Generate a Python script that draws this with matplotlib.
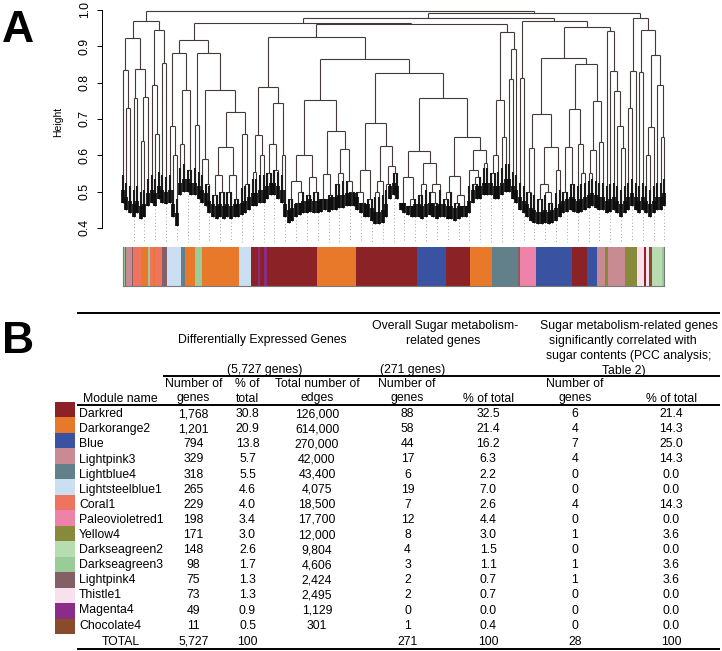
import numpy as np
import matplotlib
matplotlib.use("Agg")
import matplotlib.pyplot as plt
from matplotlib.collections import LineCollection

plt.rcParams['font.family'] = ['Liberation Sans', 'DejaVu Sans']

# === Dendrogram (A) ===
# merge height between neighbouring leaves (lowest link over each gap), left to right
merge_heights = [
    0.835, 0.73, 0.924, 0.757, 0.838, 0.64, 0.76, 0.970, 0.794, 0.66,
    0.945, 0.853, 0.996, 0.68, 0.60, 0.881, 0.63, 0.78, 0.56, 0.917,
    0.683, 0.881, 0.59, 0.52, 0.78, 0.49, 0.546, 0.50, 0.624, 0.50,
    0.546, 0.48, 0.72, 0.66, 0.52, 0.963, 0.555, 0.656, 0.60, 0.789,
    0.55, 0.63, 0.56, 0.743, 0.60, 0.925, 0.48, 0.529, 0.47, 0.50,
    0.60, 0.49, 0.539, 0.50, 0.752, 0.48, 0.549, 0.49, 0.667, 0.52,
    0.55, 0.617, 0.53, 0.50, 0.865, 0.50, 0.47, 0.56, 0.48, 0.688,
    0.50, 0.53, 0.627, 0.52, 0.57, 0.55, 0.826, 0.47, 0.539, 0.46,
    0.48, 0.613, 0.49, 0.52, 0.58, 0.50, 0.47, 0.52, 0.759, 0.48,
    0.50, 0.544, 0.47, 0.49, 0.46, 0.65, 0.56, 0.52, 0.54, 0.615,
    0.58, 0.961, 0.55, 0.60, 0.752, 0.651, 0.939, 0.81, 0.893, 0.977,
    0.812, 0.970, 0.50, 0.621, 0.713, 0.48, 0.52, 0.50, 0.47, 0.624,
    0.56, 0.867, 0.50, 0.624, 0.52, 0.728, 0.631, 0.55, 0.851, 0.55,
    0.615, 0.75, 0.638, 0.952, 0.942, 0.833, 0.778, 0.68, 0.62, 0.993,
    0.73, 0.832, 0.977, 0.828, 0.945, 0.60, 0.679, 0.876, 0.794, 0.65,
]

# lowest point reached by the branches above each leaf
leaf_floor = [
    0.47, 0.45, 0.44, 0.43, 0.44, 0.425, 0.43, 0.46, 0.47, 0.46,
    0.48, 0.47, 0.465, 0.47, 0.43, 0.405, 0.49, 0.50, 0.50, 0.49,
    0.49, 0.48, 0.47, 0.46, 0.44, 0.43, 0.425, 0.43, 0.425, 0.43,
    0.425, 0.43, 0.43, 0.435, 0.44, 0.45, 0.46, 0.46, 0.47, 0.47,
    0.48, 0.49, 0.49, 0.48, 0.47, 0.43, 0.415, 0.42, 0.43, 0.435,
    0.44, 0.44, 0.445, 0.44, 0.44, 0.445, 0.45, 0.445, 0.45, 0.45,
    0.455, 0.455, 0.46, 0.46, 0.46, 0.45, 0.44, 0.43, 0.43, 0.42,
    0.41, 0.41, 0.415, 0.43, 0.48, 0.49, 0.48, 0.45, 0.44, 0.435,
    0.43, 0.43, 0.43, 0.425, 0.43, 0.435, 0.43, 0.425, 0.43, 0.43,
    0.425, 0.425, 0.42, 0.425, 0.43, 0.43, 0.44, 0.47, 0.48, 0.48,
    0.49, 0.49, 0.49, 0.48, 0.48, 0.49, 0.50, 0.50, 0.48, 0.47,
    0.45, 0.44, 0.43, 0.42, 0.415, 0.41, 0.41, 0.415, 0.41, 0.415,
    0.42, 0.43, 0.44, 0.445, 0.45, 0.445, 0.44, 0.445, 0.45, 0.455,
    0.46, 0.455, 0.45, 0.45, 0.44, 0.445, 0.45, 0.44, 0.43, 0.44,
    0.45, 0.46, 0.45, 0.44, 0.45, 0.44, 0.43, 0.44, 0.45, 0.45,
    0.46,
]

# module colour bar under the tree: edges in % of the gene order
bar_edges = [0, 0.42, 0.61, 1.66, 1.96, 3.38, 4.73, 5.04, 5.65, 5.96,
             7.31, 8.12, 10.71, 11.50, 13.35, 14.59, 21.47, 23.63, 25.04, 25.35,
             26.14, 26.59, 35.93, 43.08, 54.39, 59.64, 64.13, 68.13, 72.93, 73.36,
             76.31, 83.01, 85.67, 87.52, 89.05, 89.55, 92.75, 95.02, 96.31, 96.62,
             97.23, 97.78, 99.52, 100]
bar_modules = ['Darkseagreen3', 'Lightpink4', 'Lightpink3', 'Lightpink4', 'Coral1',
               'Darkorange2', 'Darkseagreen3', 'Coral1', 'Darkorange2', 'Coral1',
               'Lightpink4', 'Lightsteelblue1', 'Lightblue4', 'Darkorange2', 'Darkseagreen3',
               'Darkorange2', 'Lightsteelblue1', 'Darkred', 'Magenta4', 'Darkred',
               'Magenta4', 'Darkred', 'Darkorange2', 'Darkred', 'Blue',
               'Darkred', 'Darkorange2', 'Lightblue4', 'Lightpink4', 'Paleovioletred1',
               'Blue', 'Darkred', 'Blue', 'Lightpink3', 'Yellow4',
               'Lightpink3', 'Yellow4', 'Thistle1', 'Darkred', 'Thistle1',
               'Chocolate4', 'Darkseagreen2', 'Darkseagreen3']

# === Table (B) ===
module_names = ['Darkred', 'Darkorange2', 'Blue', 'Lightpink3', 'Lightblue4',
                'Lightsteelblue1', 'Coral1', 'Paleovioletred1', 'Yellow4', 'Darkseagreen2',
                'Darkseagreen3', 'Lightpink4', 'Thistle1', 'Magenta4', 'Chocolate4']
n_genes = [1768, 1201, 794, 329, 318, 265, 229, 198, 171, 148, 98, 75, 73, 49, 11]
pct_genes = [30.8, 20.9, 13.8, 5.7, 5.5, 4.6, 4.0, 3.4, 3.0, 2.6, 1.7, 1.3, 1.3, 0.9, 0.5]
n_edges = [126000, 614000, 270000, 42000, 43400, 4075, 18500, 17700, 12000, 9804,
           4606, 2424, 2495, 1129, 301]
sugar_n = [88, 58, 44, 17, 6, 19, 7, 12, 8, 4, 3, 2, 2, 0, 1]
sugar_pct = [32.5, 21.4, 16.2, 6.3, 2.2, 7.0, 2.6, 4.4, 3.0, 1.5, 1.1, 0.7, 0.7, 0.0, 0.4]
pcc_n = [6, 4, 7, 4, 0, 0, 4, 0, 1, 0, 1, 1, 0, 0, 0]
pcc_pct = [21.4, 14.3, 25.0, 14.3, 0.0, 0.0, 14.3, 0.0, 3.6, 0.0, 3.6, 3.6, 0.0, 0.0, 0.0]
total_row = ['5,727', '100', '', '271', '100', '28', '100']

colors = {
    'Darkred': '#8b2326', 'Darkorange2': '#e8792b', 'Blue': '#3a52a2',
    'Lightpink3': '#c98b93', 'Lightblue4': '#62808a', 'Lightsteelblue1': '#cadff2',
    'Coral1': '#ee745f', 'Paleovioletred1': '#ee82a9', 'Yellow4': '#878a3b',
    'Darkseagreen2': '#b6dcb0', 'Darkseagreen3': '#99cc99', 'Lightpink4': '#845f66',
    'Thistle1': '#f8e1ee', 'Magenta4': '#892d89', 'Chocolate4': '#8a4b2d',
}

W, H = 722, 651
fig = plt.figure(figsize=(W / 100, H / 100), dpi=100)


def rect(x0, y0, x1, y1):
    return [x0 / W, 1 - y1 / H, (x1 - x0) / W, (y1 - y0) / H]


# --- dendrogram ---
gaps = np.array(merge_heights)
floor = np.array(leaf_floor)
n = len(floor)
step = (664.4 - 122.7) / (n - 1)  # pixels per leaf

ax = fig.add_axes(rect(102, 0, 680, 245))
ax.set_xlim((102 - 122.7) / step, (680 - 122.7) / step)
ax.set_ylim(1 - 235 / 363.3, 1 + 10 / 363.3)

segs, fuzz_low, fuzz_high = [], [], []


def draw(lo, hi, parent_h):
    if lo == hi:
        b = min(floor[lo], parent_h - 0.015)
        segs.append([(lo, parent_h), (lo, b)])
        # dense tangle of tiny branches near the bottom
        fuzz_low.append([(lo, b), (lo, min(parent_h, b + 0.035))])
        fuzz_high.append([(lo, b), (lo, min(parent_h, b + 0.075))])
        return lo
    s = lo + int(np.argmax(gaps[lo:hi]))
    h = gaps[s]
    xl = draw(lo, s, h)
    xr = draw(s + 1, hi, h)
    segs.append([(xl, h), (xr, h)])
    x = (xl + xr) / 2
    if parent_h is not None:
        segs.append([(x, h), (x, parent_h)])
    return x


draw(0, n - 1, None)
ax.add_collection(LineCollection(segs, colors='#443939', linewidths=0.8))
ax.add_collection(LineCollection(fuzz_high, colors='#1a1a1a', linewidths=1.5, capstyle='butt'))
ax.add_collection(LineCollection(fuzz_low, colors='#0d0d0d', linewidths=2.7, capstyle='butt'))

# guide lines down to the colour bar
for k in range(3, n, 3):
    ax.plot([k, k], [floor[k] - 0.008, 0.362], color='#a0a0a0', lw=0.7,
            linestyle=(0, (1, 2.4)))

for sp in ['top', 'right', 'bottom']:
    ax.spines[sp].set_visible(False)
ax.spines['left'].set_bounds(0.4, 1.0)
ax.spines['left'].set_linewidth(0.7)
ax.set_xticks([])
ax.set_yticks(np.arange(0.4, 1.01, 0.1))
ax.set_yticklabels(['0.4', '0.5', '0.6', '0.7', '0.8', '0.9', '1.0'])
ax.tick_params(axis='y', length=3.6, width=0.7, pad=4.5, labelsize=8.8)
for lab in ax.get_yticklabels():
    lab.set_rotation(90)
    lab.set_va('center')
ax.patch.set_visible(False)

# --- module colour bar ---
axb = fig.add_axes(rect(122.7, 246.7, 664.3, 286))
lefts = np.array(bar_edges[:-1])
widths = np.diff(bar_edges)
axb.bar(lefts, 1, width=widths, align='edge',
        color=[colors[m] for m in bar_modules], linewidth=0)
axb.set_xlim(0, 100)
axb.set_ylim(0, 1)
axb.set_xticks([])
axb.set_yticks([])
axb.spines['top'].set_visible(False)
for sp in ['left', 'right', 'bottom']:
    axb.spines[sp].set_color('#7a7a7a')
    axb.spines[sp].set_linewidth(0.8)

# --- table, drawn in pixel coordinates ---
at = fig.add_axes([0, 0, 1, 1])
at.axis('off')
fs = 8.8

at.text(2, 42, 'A', fontsize=32, fontweight='bold', ha='left', va='baseline')
at.text(2, 353, 'B', fontsize=32, fontweight='bold', ha='left', va='baseline')
at.text(58, 122, 'Height', rotation=90, ha='center', va='center', fontsize=7.5)

for y, x0 in [(312.7, 77.3), (375.5, 163.3), (404.5, 77.3), (648.5, 77.3)]:
    at.plot([x0, 720], [y, y], color='black', lw=1.4, solid_capstyle='butt')

header = [
    (262.7, 343.5, 'Differentially Expressed Genes'),
    (264.5, 373.5, '(5,727 genes)'),
    (445, 329, 'Overall Sugar metabolism-'),
    (443.3, 344, 'related genes'),
    (412.5, 373.5, '(271 genes)'),
    (629, 329, 'Sugar metabolism-related genes'),
    (622.5, 344, 'significantly correlated with'),
    (629, 359.3, 'sugar contents (PCC analysis;'),
    (624, 374, 'Table 2)'),
    (193.3, 387, 'Number of'), (193.3, 401.5, 'genes'),
    (247.5, 387, '% of'), (247.5, 401.5, 'total'),
    (317, 387, 'Total number of'), (317, 401.5, 'edges'),
    (120.3, 401.5, 'Module name'),
    (407, 387, 'Number of'), (407, 401.5, 'genes'),
    (488.3, 401.5, '% of total'),
    (575, 387, 'Number of'), (575, 401.5, 'genes'),
    (671.7, 401.5, '% of total'),
]
for x, y, s in header:
    at.text(x, y, s, ha='center', va='baseline', fontsize=fs)

col_x = [193.3, 247.5, 317, 407.5, 488.3, 575, 671]
for r, name in enumerate(module_names):
    y = 417.2 + 15.1 * r
    at.text(79, y, name, ha='left', va='baseline', fontsize=fs)
    cells = [f'{n_genes[r]:,}', f'{pct_genes[r]:.1f}', f'{n_edges[r]:,}',
             str(sugar_n[r]), f'{sugar_pct[r]:.1f}', str(pcc_n[r]), f'{pcc_pct[r]:.1f}']
    for x, s in zip(col_x, cells):
        at.text(x, y, s, ha='center', va='baseline', fontsize=fs)

at.text(120.5, 645, 'TOTAL', ha='center', va='baseline', fontsize=fs)
for x, s in zip(col_x, total_row):
    at.text(x, 645, s, ha='center', va='baseline', fontsize=fs)

# colour swatches for each module
sw_top = 401.75 + 15.5 * np.arange(len(module_names))
at.bar(np.full(len(module_names), 55.0), 15.5, width=20, bottom=sw_top, align='edge',
       color=[colors[m] for m in module_names], linewidth=0)

at.set_xlim(0, W)
at.set_ylim(H, 0)

fig.savefig('out.png', dpi=100)
